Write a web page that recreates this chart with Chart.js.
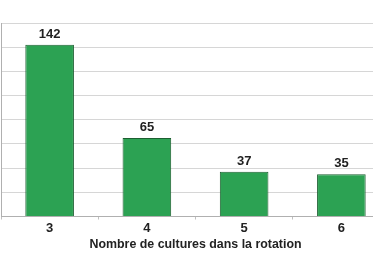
<!DOCTYPE html>
<html>
<head>
<meta charset="utf-8">
<script src="https://cdn.jsdelivr.net/npm/chart.js@4/dist/chart.umd.min.js"></script>
<style>
  html, body { margin: 0; padding: 0; background: #fff; overflow: hidden; }
  #wrap { position: relative; width: 392px; height: 257px; }
</style>
</head>
<body>
<div id="wrap"><canvas id="rotationChart" width="392" height="257"></canvas></div>
<script>
'use strict';

// ── Data ─────────────────────────────────────────────
const categories = ['3', '4', '5', '6'];
const counts     = [142, 65, 37, 35];
const yTicks     = [0, 20, 40, 60, 80, 100, 120, 140, 160];
const axisTitle  = 'Nombre de cultures dans la rotation';

const FONT = '"Liberation Sans", Arial, sans-serif';

// Value labels drawn just above each bar
const barValues = {
    id: 'barValues',
    afterDatasetsDraw(chart) {
        const ctx = chart.ctx;
        const meta = chart.getDatasetMeta(0);
        ctx.save();
        ctx.font = 'bold 13px ' + FONT;
        ctx.fillStyle = '#222';
        ctx.textAlign = 'center';
        ctx.textBaseline = 'bottom';
        meta.data.forEach((bar, i) => {
            ctx.fillText(String(counts[i]), bar.x, bar.y - 4);
        });
        ctx.restore();
    }
};

new Chart(document.getElementById('rotationChart').getContext('2d'), {
    type: 'bar',
    data: {
        labels: categories,
        datasets: [{
            data: counts,
            backgroundColor: '#2ca253',
            borderColor: '#1d5f31',
            borderWidth: 1,
            categoryPercentage: 1,
            barPercentage: 0.5,
        }]
    },
    options: {
        responsive: false,
        animation: false,
        layout: { padding: { left: 1, right: 2, top: 23, bottom: 5 } },
        plugins: {
            legend: { display: false },
            tooltip: { enabled: false }
        },
        scales: {
            y: {
                min: yTicks[0],
                max: yTicks[yTicks.length - 1],
                afterBuildTicks: axis => { axis.ticks = yTicks.map(v => ({ value: v })); },
                ticks: { display: false },
                grid: { color: '#d6d6d6', drawTicks: false, lineWidth: 1 },
                border: { display: true, color: '#b0b0b0' }
            },
            x: {
                grid: { drawOnChartArea: false, drawTicks: true, tickLength: 3, color: '#c0c0c0' },
                border: { display: true, color: '#b0b0b0' },
                ticks: {
                    color: '#222',
                    padding: 1,
                    font: { family: FONT, size: 13, weight: 'bold' }
                },
                title: {
                    display: true,
                    text: axisTitle,
                    color: '#222',
                    padding: { top: 0, bottom: 0 },
                    font: { family: FONT, size: 12.4, weight: 'bold' }
                }
            }
        }
    },
    plugins: [barValues]
});
</script>
</body>
</html>
